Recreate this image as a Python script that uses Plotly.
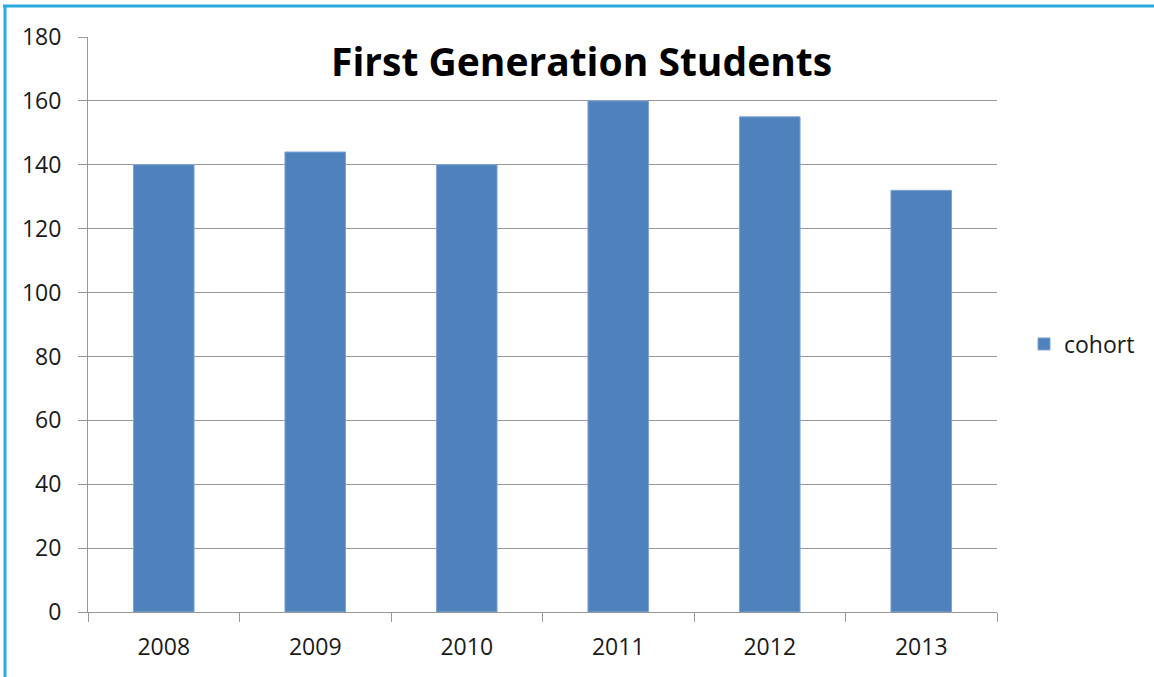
import plotly.graph_objects as go

years = ["2008", "2009", "2010", "2011", "2012", "2013"]
cohort = [140, 144, 140, 160, 155, 132]

W, H = 1154, 677
L, R, T, B = 88, 997, 37, 612

def px(x):
    return (x - L) / (R - L)

def py(y):
    return (B - y) / (B - T)

fig = go.Figure()
fig.add_trace(go.Bar(
    x=years, y=cohort, name="cohort",
    marker=dict(color="#4F81BD", line=dict(color="#7FA3D3", width=1)),
))

grid = "#989898"
font = "Open Sans, Noto Sans, sans-serif"
fig.update_layout(
    width=W, height=H,
    margin=dict(l=L, r=W - R, t=T, b=H - B, autoexpand=False),
    paper_bgcolor="white", plot_bgcolor="white",
    bargap=0.6,
    font=dict(family=font, size=23, color="#1a1a1a"),
    showlegend=True,
    legend=dict(x=px(1024), y=py(344), xanchor="left", yanchor="middle",
                font=dict(size=23), bgcolor="rgba(0,0,0,0)"),
    xaxis=dict(type="category", tickson="boundaries", ticks="outside",
               ticklen=9, tickcolor=grid, showline=True, linecolor=grid,
               linewidth=1, showgrid=False, tickfont=dict(size=23),
               ticklabelstandoff=14),
    yaxis=dict(range=[0, 180], dtick=20, ticks="outside", ticklen=9,
               tickcolor=grid, showline=True, linecolor=grid, linewidth=1,
               showgrid=True, gridcolor=grid, gridwidth=1, zeroline=False,
               tickfont=dict(size=23), ticklabelstandoff=12),
    annotations=[dict(text="<b>First Generation Students</b>", x=px(581), y=py(60),
                      xref="paper", yref="paper", showarrow=False,
                      xanchor="center", yanchor="middle",
                      font=dict(size=39, color="black", family=font))],
    shapes=[
        dict(type="line", xref="paper", yref="paper", x0=px(3), x1=px(1160),
             y0=py(6), y1=py(6), line=dict(color="#29ABE2", width=3)),
        dict(type="line", xref="paper", yref="paper", x0=px(5), x1=px(5),
             y0=py(5), y1=py(680), line=dict(color="#29ABE2", width=3)),
    ],
)

fig.write_html("out.html", config={"displayModeBar": False},
               post_script="document.body.style.margin='0';document.body.style.padding='0';")
